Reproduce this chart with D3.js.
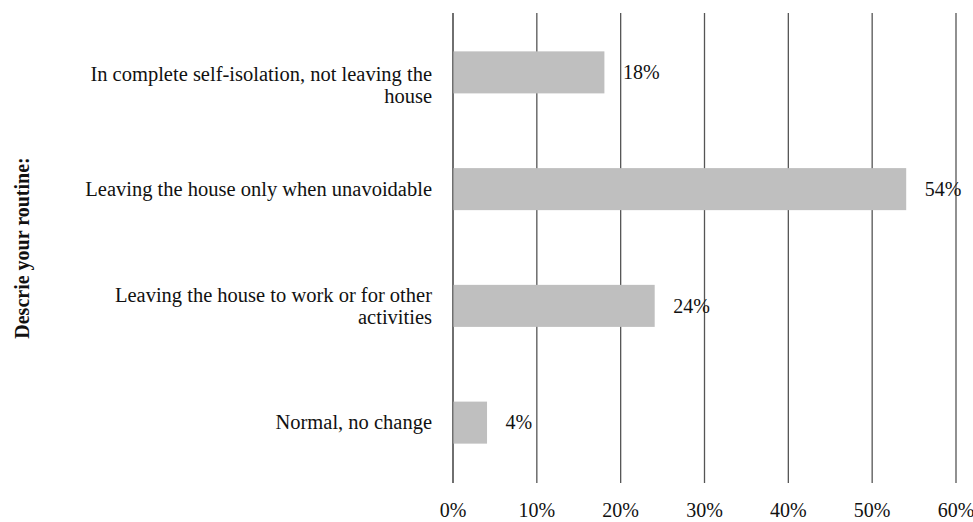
<!DOCTYPE html>
<html>
<head>
<meta charset="utf-8">
<script src="https://cdn.jsdelivr.net/npm/d3@7/dist/d3.min.js"></script>
<style>
  html, body { margin: 0; padding: 0; background: #fff; }
  svg { display: block; }
  text { font-family: "Liberation Serif", "Times New Roman", serif; fill: #111; }
</style>
</head>
<body>
<svg id="chart" width="973" height="522"></svg>
<script>
const categories = [
  ["In complete self-isolation, not leaving the", "house"],
  ["Leaving the house only when unavoidable"],
  ["Leaving the house to work or for other", "activities"],
  ["Normal, no change"]
];
const values = [0.18, 0.54, 0.24, 0.04];
const valueLabels = ["18%", "54%", "24%", "4%"];
const tickValues = [0, 0.1, 0.2, 0.3, 0.4, 0.5, 0.6];
const tickLabels = ["0%", "10%", "20%", "30%", "40%", "50%", "60%"];
const axisTitle = "Descrie your routine:";

const W = 973, H = 522;
const margin = { top: 13, right: 17, bottom: 39, left: 453 };
const svg = d3.select("#chart");

const keys = categories.map((c, i) => "c" + i);
const x = d3.scaleLinear().domain([0, 0.6]).range([margin.left, W - margin.right]);
const y = d3.scaleBand().domain(keys).range([14, 481]).paddingInner(0.64).paddingOuter(0.32);

// gridlines
svg.append("g").selectAll("line").data(tickValues).join("line")
  .attr("x1", d => x(d)).attr("x2", d => x(d))
  .attr("y1", margin.top).attr("y2", H - margin.bottom)
  .attr("stroke", d => d === 0 ? "#222" : "#555")
  .attr("stroke-width", 1.3);

// bars
svg.append("g").selectAll("rect").data(values).join("rect")
  .attr("x", x(0) + 0.5)
  .attr("y", (d, i) => y(keys[i]))
  .attr("width", d => x(d) - x(0))
  .attr("height", y.bandwidth())
  .attr("fill", "#bfbfbf");

// x tick labels
svg.append("g").selectAll("text").data(tickValues).join("text")
  .attr("x", d => x(d))
  .attr("y", 517)
  .attr("text-anchor", "middle")
  .attr("font-size", 20)
  .text((d, i) => tickLabels[i]);

// value labels
svg.append("g").selectAll("text").data(values).join("text")
  .attr("x", d => x(d) + 19)
  .attr("y", (d, i) => y(keys[i]) + y.bandwidth() / 2)
  .attr("dy", "0.34em")
  .attr("font-size", 20)
  .text((d, i) => valueLabels[i]);

// category labels
const lineH = 22;
const catG = svg.append("g");
categories.forEach((lines, i) => {
  const cy = y(keys[i]) + y.bandwidth() / 2 + (i === 0 ? 13 : 0);
  const t = catG.append("text")
    .attr("x", 432)
    .attr("text-anchor", "end")
    .attr("font-size", 20.5);
  lines.forEach((ln, j) => {
    t.append("tspan")
      .attr("x", 432)
      .attr("y", cy + (j - (lines.length - 1) / 2) * lineH)
      .attr("dy", "0.33em")
      .text(ln);
  });
});

// axis title
svg.append("text")
  .attr("transform", `translate(29, ${(margin.top + H - margin.bottom) / 2}) rotate(-90)`)
  .attr("text-anchor", "middle")
  .attr("font-size", 20)
  .attr("font-weight", "bold")
  .text(axisTitle);
</script>
</body>
</html>
